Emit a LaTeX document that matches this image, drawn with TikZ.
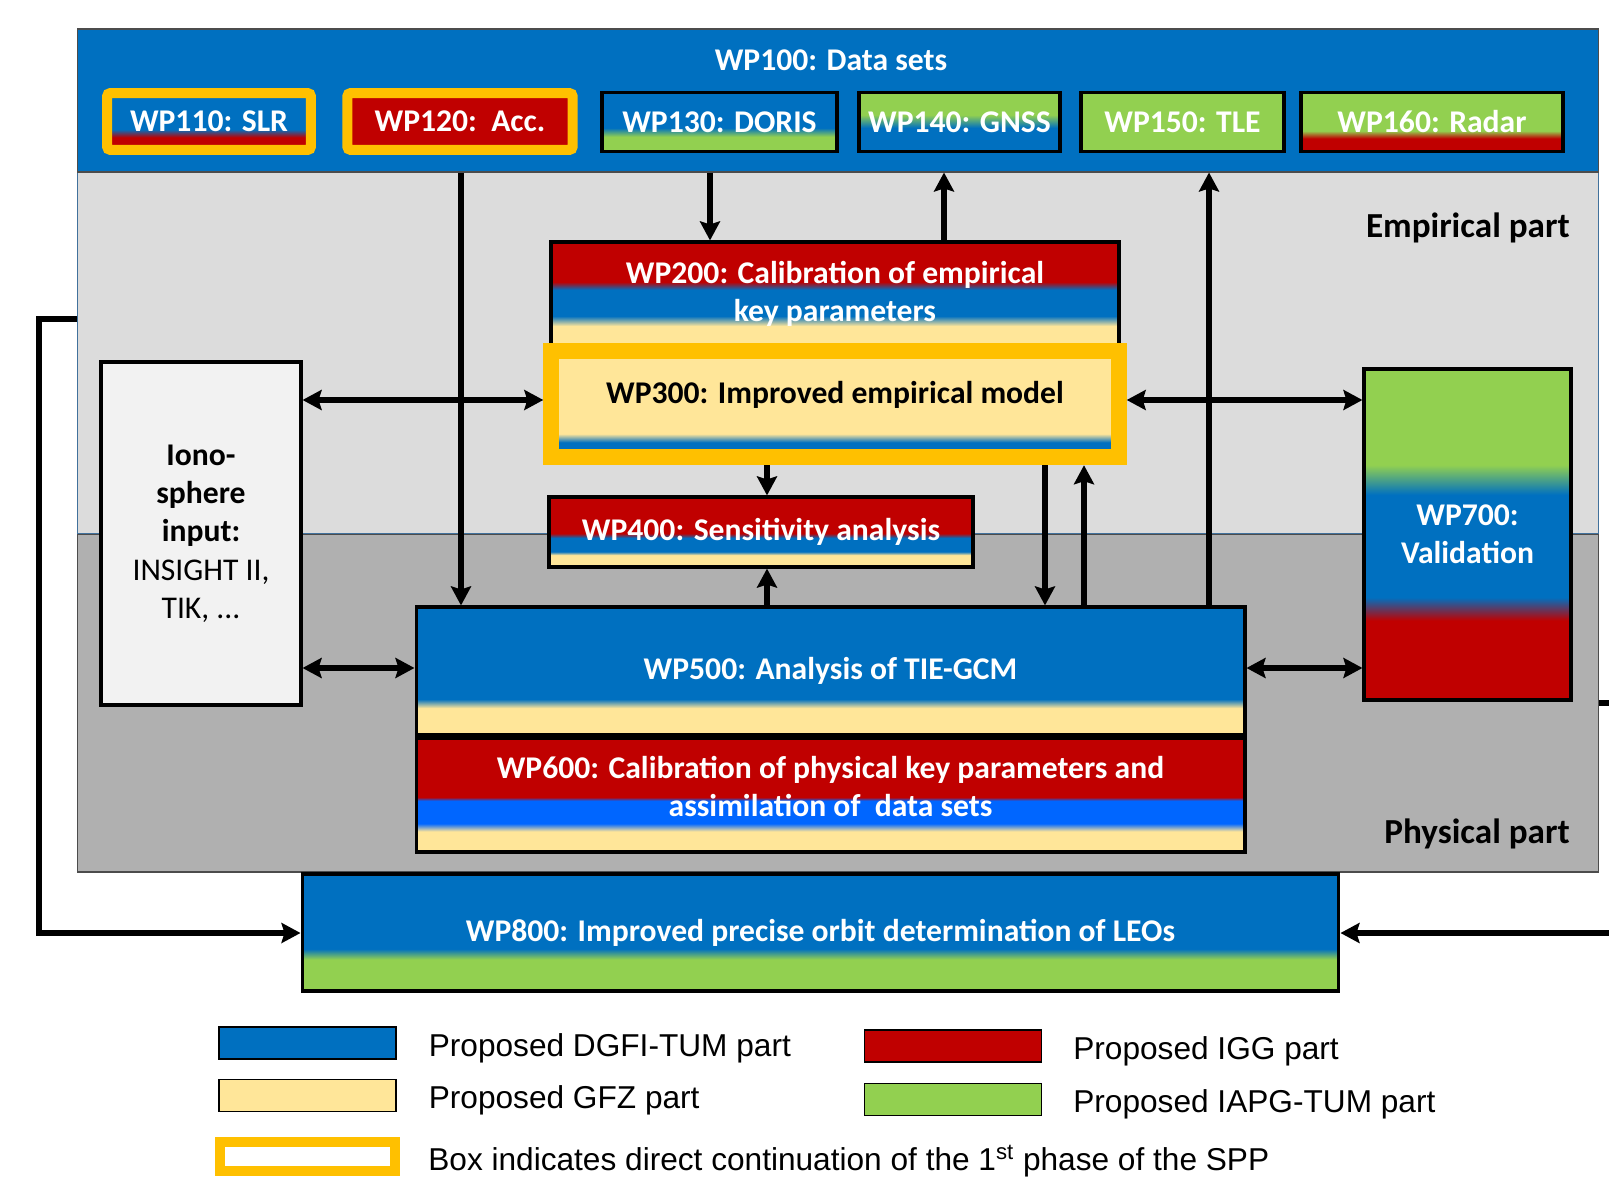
\documentclass[tikz,border=0pt]{standalone}
\usepackage{fontspec}
\setmainfont{Carlito}
\newfontfamily\legendfamily{Liberation Sans}
\usetikzlibrary{arrows.meta,positioning}

% Partner colours
\definecolor{dgfi}{HTML}{0070C0}
\definecolor{igg}{HTML}{C00000}
\definecolor{gfz}{HTML}{FFE699}
\definecolor{iapg}{HTML}{92D050}
\definecolor{spp}{HTML}{FFC000}
\definecolor{brightblue}{HTML}{0066FF}
\definecolor{empgray}{HTML}{DCDCDC}
\definecolor{physgray}{HTML}{B0B0B0}
\definecolor{ionogray}{HTML}{F2F2F2}
\definecolor{partframe}{HTML}{41719C}

% Colour bands of the work packages (the box runs from 25bp to 75bp)
\pgfdeclareverticalshading{slrfill}{100bp}{color(0bp)=(igg); color(36bp)=(igg); color(43bp)=(dgfi); color(100bp)=(dgfi)}
\pgfdeclareverticalshading{accfill}{100bp}{color(0bp)=(igg); color(100bp)=(igg)}
\pgfdeclareverticalshading{dorisfill}{100bp}{color(0bp)=(iapg); color(37.5bp)=(iapg); color(45bp)=(dgfi); color(100bp)=(dgfi)}
\pgfdeclareverticalshading{gnssfill}{100bp}{color(0bp)=(dgfi); color(45bp)=(dgfi); color(56bp)=(iapg); color(100bp)=(iapg)}
\pgfdeclareverticalshading{tlefill}{100bp}{color(0bp)=(iapg); color(100bp)=(iapg)}
\pgfdeclareverticalshading{radarfill}{100bp}{color(0bp)=(igg); color(36bp)=(igg); color(42.5bp)=(iapg); color(100bp)=(iapg)}
\pgfdeclareverticalshading{calibfill}{100bp}{color(0bp)=(gfz); color(34.6bp)=(gfz); color(39.4bp)=(dgfi); color(52bp)=(dgfi); color(55.8bp)=(igg); color(100bp)=(igg)}
\pgfdeclareverticalshading{modelfill}{100bp}{color(0bp)=(dgfi); color(32bp)=(dgfi); color(36bp)=(gfz); color(100bp)=(gfz)}
\pgfdeclareverticalshading{sensfill}{100bp}{color(0bp)=(gfz); color(33.5bp)=(gfz); color(36bp)=(dgfi); color(45.7bp)=(dgfi); color(49bp)=(igg); color(100bp)=(igg)}
\pgfdeclareverticalshading{tiefill}{100bp}{color(0bp)=(gfz); color(35.5bp)=(gfz); color(39bp)=(dgfi); color(100bp)=(dgfi)}
\pgfdeclareverticalshading{physfill}{100bp}{color(0bp)=(gfz); color(34bp)=(gfz); color(37.5bp)=(brightblue); color(47.5bp)=(brightblue); color(49bp)=(igg); color(100bp)=(igg)}
\pgfdeclareverticalshading{valfill}{100bp}{color(0bp)=(igg); color(37bp)=(igg); color(40.5bp)=(dgfi); color(56bp)=(dgfi); color(60.5bp)=(iapg); color(100bp)=(iapg)}
\pgfdeclareverticalshading{leofill}{100bp}{color(0bp)=(iapg); color(38.5bp)=(iapg); color(43bp)=(dgfi); color(100bp)=(dgfi)}

\newcommand{\wpfont}{\fontsize{18}{21.8}\selectfont\bfseries}
\newcommand{\partfont}{\fontsize{20}{24}\selectfont\bfseries}
\newcommand{\keyfont}{\legendfamily\fontsize{18}{21}\selectfont}

\begin{document}
\begin{tikzpicture}[x=0.02cm,y=-0.02cm]
    % Define styles
    \tikzstyle{region} = [draw=partframe, line width=0.6pt, inner sep=0pt]
    \tikzstyle{wpbox} = [draw, line width=1.8pt, inner sep=0pt, align=center, text=white, font=\wpfont]
    \tikzstyle{sppbox} = [wpbox, draw=spp, line width=0.2cm, rounded corners=2pt]
    \tikzstyle{conn} = [line width=3pt, -{Stealth[length=0.38cm,width=0.4cm,inset=0.06cm]}]
    \tikzstyle{both} = [line width=3pt, {Stealth[length=0.38cm,width=0.4cm,inset=0.06cm]}-{Stealth[length=0.38cm,width=0.4cm,inset=0.06cm]}]
    \tikzstyle{key} = [draw, line width=0.6pt, minimum width=3.54cm, minimum height=0.64cm]
    \tikzstyle{keytext} = [inner sep=0pt, yshift=-0.1cm, font=\keyfont]

    \useasboundingbox (0,0) rectangle (1609,1179);

    % Empirical and physical part
    \node[region, fill=empgray, minimum width=30.44cm, minimum height=7.24cm] (emp) at (838,353) {};
    \node[region, draw=black!70, fill=physgray, minimum width=30.44cm, minimum height=6.76cm] (phys) at (838,703) {};
    \node[inner sep=0pt, anchor=east, font=\partfont] (emplbl) at (1570,228) {Empirical part};
    \node[inner sep=0pt, anchor=east, font=\partfont] (physlbl) at (1570,834) {Physical part};

    % Data sets
    \node[region, draw=black!70, fill=dgfi, minimum width=30.44cm, minimum height=2.86cm] (data) at (838,100.5) {};
    \node[text=white, font=\wpfont] (datalbl) at (831,60) {WP100: Data sets};
    \foreach \n/\cx/\w/\sh/\txt in {110/209/4.08cm/slrfill/{WP110: SLR},120/460/4.51cm/accfill/{WP120:\ \ Acc.}} {
        \node[sppbox, shading=\sh, minimum width=\w, minimum height=1.14cm] (wp\n) at (\cx,121.5) {\txt};
      }
    \foreach \n/\cx/\w/\sh/\txt in {130/719.5/4.7cm/dorisfill/{WP130: DORIS},140/959.5/4.02cm/gnssfill/{WP140: GNSS},150/1182.5/4.06cm/tlefill/{WP150: TLE},160/1432/5.24cm/radarfill/{WP160: Radar}} {
        \node[wpbox, shading=\sh, minimum width=\w, minimum height=1.18cm] (wp\n) at (\cx,122) {\txt};
      }

    % Empirical work packages
    \node[wpbox, shading=calibfill, minimum width=11.36cm, minimum height=2.08cm] (wp200) at (835,294) {WP200: Calibration of empirical\\key parameters};
    \node[sppbox, line width=0.32cm, rounded corners=0pt, shading=modelfill, text=black, minimum width=11.35cm, minimum height=2.13cm, text depth=0.45cm] (wp300) at (835,404) {WP300: Improved empirical model};
    \node[wpbox, shading=sensfill, minimum width=8.48cm, minimum height=1.4cm] (wp400) at (761,532) {WP400: Sensitivity analysis};

    % Physical work packages
    \node[wpbox, shading=tiefill, minimum width=16.58cm, minimum height=2.56cm] (wp500) at (830.5,671) {WP500: Analysis of TIE-GCM};
    \node[wpbox, shading=physfill, minimum width=16.58cm, minimum height=2.28cm, text depth=0.35cm] (wp600) at (830.5,795) {WP600: Calibration of physical key parameters and\\assimilation of\ \ data sets};
    \node[wpbox, shading=valfill, minimum width=4.14cm, minimum height=6.62cm] (wp700) at (1467.5,534.5) {WP700:\\Validation};
    \node[wpbox, fill=ionogray, text=black, minimum width=4cm, minimum height=6.86cm] (iono) at (201,533.5) {Iono-\\sphere\\input:\\{\mdseries INSIGHT II,}\\{\mdseries TIK, ...}};
    \node[wpbox, shading=leofill, minimum width=20.74cm, minimum height=2.34cm] (wp800) at (820.5,932.5) {WP800: Improved precise orbit determination of LEOs};

    % Connections
    \draw[conn] (461,0 |- data.south) -- (461,0 |- wp500.north);
    \draw[conn] (710,0 |- data.south) -- (710,0 |- wp200.north);
    \draw[conn] (944,0 |- wp200.north) -- (944,0 |- data.south);
    \draw[conn] (1209,0 |- wp500.north) -- (1209,0 |- data.south);
    \draw[both] (iono.east |- 0,400) -- (wp300.west |- 0,400);
    \draw[both] (wp300.east |- 0,400) -- (wp700.west |- 0,400);
    \draw[conn] (767,0 |- wp300.south) -- (767,0 |- wp400.north);
    \draw[conn] (767,0 |- wp500.north) -- (767,0 |- wp400.south);
    \draw[conn] (1045,0 |- wp300.south) -- (1045,0 |- wp500.north);
    \draw[conn] (1084,0 |- wp500.north) -- (1084,0 |- wp300.south);
    \draw[both] (iono.east |- 0,668) -- (wp500.west |- 0,668);
    \draw[both] (wp500.east |- 0,668) -- (wp700.west |- 0,668);
    \draw[conn] (emp.west |- 0,319) -| (39,933) -- (wp800.west |- 0,933);
    \draw[conn] (phys.east |- 0,703) -- (1630,703) |- (wp800.east |- 0,933);

    % Legend
    \node[key, fill=dgfi] (kdgfi) at (307.5,1043) {};
    \node[key, fill=gfz] (kgfz) at (307.5,1095.5) {};
    \node[key, draw=spp, line width=0.2cm, fill=white, minimum width=3.5cm, minimum height=0.58cm] (kspp) at (307.5,1156.5) {};
    \node[key, fill=igg] (kigg) at (953,1046) {};
    \node[key, fill=iapg] (kiapg) at (953,1099.5) {};
    \node[keytext, right=0.64cm of kdgfi] (tdgfi) {Proposed DGFI-TUM part};
    \node[keytext, right=0.64cm of kgfz] (tgfz) {Proposed GFZ part};
    \node[keytext, right=0.56cm of kspp] (tspp) {Box indicates direct continuation of the 1\textsuperscript{st} phase of the SPP};
    \node[keytext, right=0.62cm of kigg] (tigg) {Proposed IGG part};
    \node[keytext, right=0.62cm of kiapg] (tiapg) {Proposed IAPG-TUM part};
\end{tikzpicture}
\end{document}
